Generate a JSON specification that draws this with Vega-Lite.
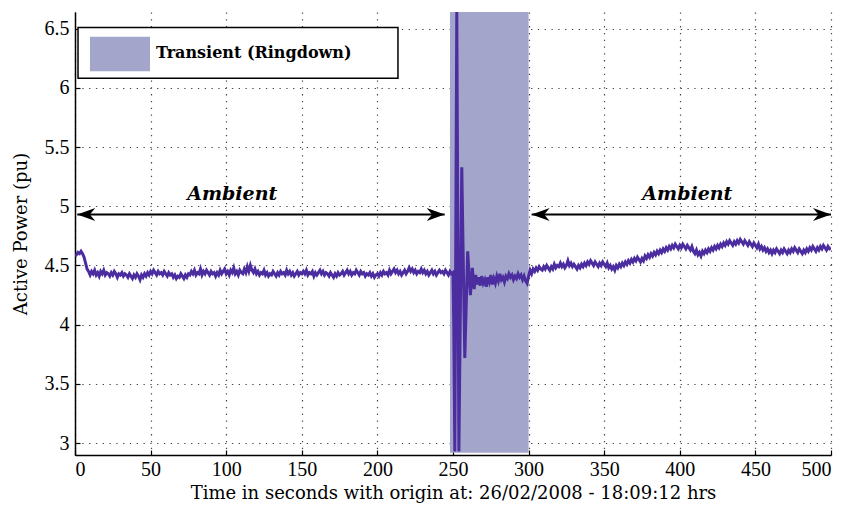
{
"$schema":"https://vega.github.io/schema/vega-lite/v6.json",
"width":756,"height":443,
"autosize":"none",
"padding":{"left":75,"top":12,"right":18,"bottom":53},
"background":"white",
"config":{"view":{"stroke":null},"font":"Liberation Serif","axis":{"domainColor":"black","domainWidth":1.5,"tickColor":"black","tickWidth":1.2,"labelFont":"Liberation Serif","labelFontSize":20,"labelColor":"black","titleFont":"DejaVu Serif","titleFontSize":18,"titleFontWeight":"normal","titleColor":"black","gridColor":"#444","gridDash":[1.3,5.5],"gridWidth":1.2,"gridOpacity":1}},
"datasets":{"sig":[
{"t":0,"p":4.58},{"t":1,"p":4.59},{"t":2,"p":4.61},{"t":3,"p":4.6},{"t":4,"p":4.62},{"t":5,"p":4.6},{"t":6,"p":4.57},{"t":7,"p":4.52},{"t":8,"p":4.47},{"t":9,"p":4.45},{"t":10,"p":4.42},
{"t":11,"p":4.45},{"t":12,"p":4.43},{"t":13,"p":4.46},{"t":14,"p":4.42},{"t":15,"p":4.44},{"t":16,"p":4.41},{"t":17,"p":4.45},{"t":18,"p":4.43},{"t":19,"p":4.46},{"t":20,"p":4.42},
{"t":21,"p":4.44},{"t":22,"p":4.43},{"t":23,"p":4.41},{"t":24,"p":4.44},{"t":25,"p":4.42},{"t":26,"p":4.45},{"t":27,"p":4.43},{"t":28,"p":4.4},{"t":29,"p":4.43},{"t":30,"p":4.42},
{"t":31,"p":4.44},{"t":32,"p":4.41},{"t":33,"p":4.43},{"t":34,"p":4.42},{"t":35,"p":4.4},{"t":36,"p":4.43},{"t":37,"p":4.41},{"t":38,"p":4.39},{"t":39,"p":4.42},{"t":40,"p":4.4},
{"t":41,"p":4.43},{"t":42,"p":4.41},{"t":43,"p":4.38},{"t":44,"p":4.42},{"t":45,"p":4.4},{"t":46,"p":4.43},{"t":47,"p":4.41},{"t":48,"p":4.44},{"t":49,"p":4.42},{"t":50,"p":4.45},
{"t":51,"p":4.43},{"t":52,"p":4.46},{"t":53,"p":4.44},{"t":54,"p":4.42},{"t":55,"p":4.45},{"t":56,"p":4.43},{"t":57,"p":4.44},{"t":58,"p":4.42},{"t":59,"p":4.45},{"t":60,"p":4.43},
{"t":61,"p":4.41},{"t":62,"p":4.44},{"t":63,"p":4.42},{"t":64,"p":4.43},{"t":65,"p":4.4},{"t":66,"p":4.42},{"t":67,"p":4.39},{"t":68,"p":4.41},{"t":69,"p":4.4},{"t":70,"p":4.43},
{"t":71,"p":4.41},{"t":72,"p":4.39},{"t":73,"p":4.42},{"t":74,"p":4.4},{"t":75,"p":4.43},{"t":76,"p":4.42},{"t":77,"p":4.45},{"t":78,"p":4.43},{"t":79,"p":4.46},{"t":80,"p":4.42},
{"t":81,"p":4.44},{"t":82,"p":4.43},{"t":83,"p":4.47},{"t":84,"p":4.42},{"t":85,"p":4.45},{"t":86,"p":4.43},{"t":87,"p":4.46},{"t":88,"p":4.44},{"t":89,"p":4.42},{"t":90,"p":4.45},
{"t":91,"p":4.43},{"t":92,"p":4.44},{"t":93,"p":4.41},{"t":94,"p":4.44},{"t":95,"p":4.42},{"t":96,"p":4.46},{"t":97,"p":4.43},{"t":98,"p":4.45},{"t":99,"p":4.47},{"t":100,"p":4.43},
{"t":101,"p":4.45},{"t":102,"p":4.42},{"t":103,"p":4.46},{"t":104,"p":4.44},{"t":105,"p":4.48},{"t":106,"p":4.43},{"t":107,"p":4.45},{"t":108,"p":4.42},{"t":109,"p":4.46},{"t":110,"p":4.44},
{"t":111,"p":4.43},{"t":112,"p":4.47},{"t":113,"p":4.44},{"t":114,"p":4.49},{"t":115,"p":4.45},{"t":116,"p":4.5},{"t":117,"p":4.46},{"t":118,"p":4.44},{"t":119,"p":4.47},{"t":120,"p":4.43},
{"t":121,"p":4.45},{"t":122,"p":4.42},{"t":123,"p":4.44},{"t":124,"p":4.43},{"t":125,"p":4.46},{"t":126,"p":4.42},{"t":127,"p":4.44},{"t":128,"p":4.41},{"t":129,"p":4.43},{"t":130,"p":4.42},
{"t":131,"p":4.45},{"t":132,"p":4.43},{"t":133,"p":4.41},{"t":134,"p":4.44},{"t":135,"p":4.42},{"t":136,"p":4.45},{"t":137,"p":4.43},{"t":138,"p":4.44},{"t":139,"p":4.42},{"t":140,"p":4.46},
{"t":141,"p":4.43},{"t":142,"p":4.45},{"t":143,"p":4.42},{"t":144,"p":4.44},{"t":145,"p":4.41},{"t":146,"p":4.43},{"t":147,"p":4.45},{"t":148,"p":4.42},{"t":149,"p":4.44},{"t":150,"p":4.43},
{"t":151,"p":4.45},{"t":152,"p":4.43},{"t":153,"p":4.46},{"t":154,"p":4.42},{"t":155,"p":4.44},{"t":156,"p":4.43},{"t":157,"p":4.45},{"t":158,"p":4.41},{"t":159,"p":4.44},{"t":160,"p":4.42},
{"t":161,"p":4.44},{"t":162,"p":4.46},{"t":163,"p":4.43},{"t":164,"p":4.45},{"t":165,"p":4.42},{"t":166,"p":4.44},{"t":167,"p":4.43},{"t":168,"p":4.41},{"t":169,"p":4.44},{"t":170,"p":4.42},
{"t":171,"p":4.4},{"t":172,"p":4.43},{"t":173,"p":4.41},{"t":174,"p":4.44},{"t":175,"p":4.42},{"t":176,"p":4.43},{"t":177,"p":4.45},{"t":178,"p":4.42},{"t":179,"p":4.44},{"t":180,"p":4.46},
{"t":181,"p":4.43},{"t":182,"p":4.45},{"t":183,"p":4.42},{"t":184,"p":4.44},{"t":185,"p":4.43},{"t":186,"p":4.46},{"t":187,"p":4.44},{"t":188,"p":4.42},{"t":189,"p":4.45},{"t":190,"p":4.43},
{"t":191,"p":4.44},{"t":192,"p":4.41},{"t":193,"p":4.43},{"t":194,"p":4.42},{"t":195,"p":4.44},{"t":196,"p":4.41},{"t":197,"p":4.43},{"t":198,"p":4.4},{"t":199,"p":4.42},{"t":200,"p":4.43},
{"t":201,"p":4.41},{"t":202,"p":4.44},{"t":203,"p":4.42},{"t":204,"p":4.45},{"t":205,"p":4.43},{"t":206,"p":4.44},{"t":207,"p":4.42},{"t":208,"p":4.46},{"t":209,"p":4.43},{"t":210,"p":4.45},
{"t":211,"p":4.47},{"t":212,"p":4.44},{"t":213,"p":4.46},{"t":214,"p":4.43},{"t":215,"p":4.45},{"t":216,"p":4.42},{"t":217,"p":4.44},{"t":218,"p":4.46},{"t":219,"p":4.43},{"t":220,"p":4.45},
{"t":221,"p":4.48},{"t":222,"p":4.45},{"t":223,"p":4.47},{"t":224,"p":4.44},{"t":225,"p":4.46},{"t":226,"p":4.43},{"t":227,"p":4.45},{"t":228,"p":4.44},{"t":229,"p":4.47},{"t":230,"p":4.44},
{"t":231,"p":4.46},{"t":232,"p":4.43},{"t":233,"p":4.45},{"t":234,"p":4.42},{"t":235,"p":4.44},{"t":236,"p":4.46},{"t":237,"p":4.43},{"t":238,"p":4.45},{"t":239,"p":4.42},{"t":240,"p":4.44},
{"t":241,"p":4.46},{"t":242,"p":4.44},{"t":243,"p":4.45},{"t":244,"p":4.43},{"t":245,"p":4.46},{"t":246,"p":4.44},{"t":247,"p":4.42},{"t":248,"p":4.45},{"t":249,"p":4.43},{"t":250,"p":4.44},
{"t":250.5,"p":4.0},{"t":251.2,"p":2.93},{"t":252.5,"p":6.64},{"t":253.9,"p":2.93},{"t":255.8,"p":5.33},{"t":257.8,"p":3.72},{"t":259.7,"p":4.62},{"t":261.5,"p":4.25},{"t":262.8,"p":4.48},{"t":264,"p":4.3},
{"t":265,"p":4.42},{"t":266,"p":4.34},{"t":267,"p":4.4},{"t":268,"p":4.33},{"t":269,"p":4.41},{"t":270,"p":4.35},{"t":271,"p":4.38},{"t":272,"p":4.32},{"t":273,"p":4.4},{"t":274,"p":4.36},
{"t":275,"p":4.42},{"t":276,"p":4.34},{"t":277,"p":4.39},{"t":278,"p":4.35},{"t":279,"p":4.41},{"t":280,"p":4.37},{"t":281,"p":4.43},{"t":282,"p":4.38},{"t":283,"p":4.4},{"t":284,"p":4.36},
{"t":285,"p":4.41},{"t":286,"p":4.39},{"t":287,"p":4.43},{"t":288,"p":4.4},{"t":289,"p":4.42},{"t":290,"p":4.38},{"t":291,"p":4.41},{"t":292,"p":4.39},{"t":293,"p":4.43},{"t":294,"p":4.4},
{"t":295,"p":4.42},{"t":296,"p":4.38},{"t":297,"p":4.41},{"t":298,"p":4.37},{"t":299,"p":4.35},{"t":300,"p":4.41},
{"t":301,"p":4.46},{"t":302,"p":4.43},{"t":303,"p":4.47},{"t":304,"p":4.45},{"t":305,"p":4.48},{"t":306,"p":4.46},{"t":307,"p":4.49},{"t":308,"p":4.47},{"t":309,"p":4.46},{"t":310,"p":4.49},
{"t":311,"p":4.47},{"t":312,"p":4.5},{"t":313,"p":4.48},{"t":314,"p":4.46},{"t":315,"p":4.49},{"t":316,"p":4.47},{"t":317,"p":4.51},{"t":318,"p":4.48},{"t":319,"p":4.5},{"t":320,"p":4.49},
{"t":321,"p":4.52},{"t":322,"p":4.49},{"t":323,"p":4.51},{"t":324,"p":4.48},{"t":325,"p":4.5},{"t":326,"p":4.54},{"t":327,"p":4.5},{"t":328,"p":4.52},{"t":329,"p":4.49},{"t":330,"p":4.51},
{"t":331,"p":4.49},{"t":332,"p":4.47},{"t":333,"p":4.5},{"t":334,"p":4.48},{"t":335,"p":4.51},{"t":336,"p":4.49},{"t":337,"p":4.52},{"t":338,"p":4.5},{"t":339,"p":4.53},{"t":340,"p":4.51},
{"t":341,"p":4.54},{"t":342,"p":4.52},{"t":343,"p":4.5},{"t":344,"p":4.53},{"t":345,"p":4.51},{"t":346,"p":4.49},{"t":347,"p":4.52},{"t":348,"p":4.5},{"t":349,"p":4.53},{"t":350,"p":4.51},
{"t":351,"p":4.49},{"t":352,"p":4.52},{"t":353,"p":4.48},{"t":354,"p":4.5},{"t":355,"p":4.47},{"t":356,"p":4.49},{"t":357,"p":4.46},{"t":358,"p":4.5},{"t":359,"p":4.48},{"t":360,"p":4.51},
{"t":361,"p":4.49},{"t":362,"p":4.52},{"t":363,"p":4.5},{"t":364,"p":4.53},{"t":365,"p":4.51},{"t":366,"p":4.54},{"t":367,"p":4.52},{"t":368,"p":4.55},{"t":369,"p":4.53},{"t":370,"p":4.56},
{"t":371,"p":4.54},{"t":372,"p":4.57},{"t":373,"p":4.55},{"t":374,"p":4.53},{"t":375,"p":4.56},{"t":376,"p":4.54},{"t":377,"p":4.58},{"t":378,"p":4.56},{"t":379,"p":4.59},{"t":380,"p":4.57},
{"t":381,"p":4.6},{"t":382,"p":4.58},{"t":383,"p":4.61},{"t":384,"p":4.59},{"t":385,"p":4.62},{"t":386,"p":4.6},{"t":387,"p":4.63},{"t":388,"p":4.61},{"t":389,"p":4.64},{"t":390,"p":4.62},
{"t":391,"p":4.65},{"t":392,"p":4.63},{"t":393,"p":4.66},{"t":394,"p":4.64},{"t":395,"p":4.67},{"t":396,"p":4.65},{"t":397,"p":4.68},{"t":398,"p":4.66},{"t":399,"p":4.64},{"t":400,"p":4.67},
{"t":401,"p":4.65},{"t":402,"p":4.68},{"t":403,"p":4.66},{"t":404,"p":4.64},{"t":405,"p":4.67},{"t":406,"p":4.65},{"t":407,"p":4.63},{"t":408,"p":4.66},{"t":409,"p":4.62},{"t":410,"p":4.6},
{"t":411,"p":4.63},{"t":412,"p":4.59},{"t":413,"p":4.61},{"t":414,"p":4.58},{"t":415,"p":4.62},{"t":416,"p":4.6},{"t":417,"p":4.63},{"t":418,"p":4.61},{"t":419,"p":4.64},{"t":420,"p":4.62},
{"t":421,"p":4.65},{"t":422,"p":4.63},{"t":423,"p":4.66},{"t":424,"p":4.64},{"t":425,"p":4.67},{"t":426,"p":4.65},{"t":427,"p":4.68},{"t":428,"p":4.66},{"t":429,"p":4.69},{"t":430,"p":4.67},
{"t":431,"p":4.7},{"t":432,"p":4.68},{"t":433,"p":4.71},{"t":434,"p":4.69},{"t":435,"p":4.67},{"t":436,"p":4.7},{"t":437,"p":4.68},{"t":438,"p":4.71},{"t":439,"p":4.69},{"t":440,"p":4.72},
{"t":441,"p":4.7},{"t":442,"p":4.68},{"t":443,"p":4.71},{"t":444,"p":4.69},{"t":445,"p":4.67},{"t":446,"p":4.7},{"t":447,"p":4.68},{"t":448,"p":4.66},{"t":449,"p":4.69},{"t":450,"p":4.67},
{"t":451,"p":4.65},{"t":452,"p":4.68},{"t":453,"p":4.64},{"t":454,"p":4.66},{"t":455,"p":4.63},{"t":456,"p":4.65},{"t":457,"p":4.62},{"t":458,"p":4.64},{"t":459,"p":4.61},{"t":460,"p":4.63},
{"t":461,"p":4.6},{"t":462,"p":4.63},{"t":463,"p":4.61},{"t":464,"p":4.64},{"t":465,"p":4.62},{"t":466,"p":4.6},{"t":467,"p":4.63},{"t":468,"p":4.61},{"t":469,"p":4.64},{"t":470,"p":4.62},
{"t":471,"p":4.6},{"t":472,"p":4.63},{"t":473,"p":4.61},{"t":474,"p":4.64},{"t":475,"p":4.62},{"t":476,"p":4.65},{"t":477,"p":4.63},{"t":478,"p":4.61},{"t":479,"p":4.64},{"t":480,"p":4.62},
{"t":481,"p":4.6},{"t":482,"p":4.63},{"t":483,"p":4.61},{"t":484,"p":4.64},{"t":485,"p":4.62},{"t":486,"p":4.65},{"t":487,"p":4.63},{"t":488,"p":4.66},{"t":489,"p":4.64},{"t":490,"p":4.62},
{"t":491,"p":4.65},{"t":492,"p":4.63},{"t":493,"p":4.66},{"t":494,"p":4.64},{"t":495,"p":4.67},{"t":496,"p":4.65},{"t":497,"p":4.63},{"t":498,"p":4.66},{"t":499,"p":4.64},{"t":500,"p":4.65}
]},
"layer":[
{"data":{"values":[{"x":248,"x2":300,"y":2.92,"y2":6.64}]},
 "mark":{"type":"rect","color":"#a3a6ca"},
 "encoding":{
  "x":{"field":"x","type":"quantitative","scale":{"domain":[0,500],"nice":false},
   "axis":{"values":[0,50,100,150,200,250,300,350,400,450,500],"format":"d","grid":true,"tickSize":-5,"labelPadding":9,"labelFont":"Liberation Serif","labelFontSize":20,"titleFont":"DejaVu Serif","titleFontSize":18,"title":"Time in seconds with origin at: 26/02/2008 - 18:09:12 hrs","titlePadding":5}},
  "x2":{"field":"x2"},
  "y":{"field":"y","type":"quantitative","scale":{"domain":[2.9,6.64],"nice":false,"zero":false},
   "axis":{"values":[3,3.5,4,4.5,5,5.5,6,6.5],"format":"~g","grid":true,"tickSize":-5,"labelPadding":11,"labelFont":"Liberation Serif","labelFontSize":20,"titleFont":"DejaVu Serif","titleFontSize":18,"title":"Active Power (pu)","titlePadding":14}},
  "y2":{"field":"y2"}}},
{"data":{"name":"sig"},
 "mark":{"type":"line","color":"#4b2d9f","strokeWidth":3,"clip":true},
 "encoding":{"x":{"field":"t","type":"quantitative"},"y":{"field":"p","type":"quantitative"}}},
{"data":{"values":[{"x":2,"x2":213.6,"y":6.08,"y2":6.51}]},
 "mark":{"type":"rect","fill":"white","stroke":"black","strokeWidth":1.5},
 "encoding":{"x":{"field":"x","type":"quantitative"},"x2":{"field":"x2"},"y":{"field":"y","type":"quantitative"},"y2":{"field":"y2"}}},
{"data":{"values":[{"x":9.9,"x2":49.6,"y":6.14,"y2":6.43}]},
 "mark":{"type":"rect","fill":"#a3a6ca"},
 "encoding":{"x":{"field":"x","type":"quantitative"},"x2":{"field":"x2"},"y":{"field":"y","type":"quantitative"},"y2":{"field":"y2"}}},
{"data":{"values":[{"x":53.5,"y":6.295,"label":"Transient (Ringdown)"}]},
 "mark":{"type":"text","align":"left","baseline":"middle","font":"DejaVu Serif","fontWeight":"bold","fontSize":16,"color":"black"},
 "encoding":{"x":{"field":"x","type":"quantitative"},"y":{"field":"y","type":"quantitative"},"text":{"field":"label"}}},
{"data":{"values":[{"a":1.5,"b":244.5,"y":4.93},{"a":302,"b":500,"y":4.93}]},
 "mark":{"type":"rule","color":"black","strokeWidth":2},
 "encoding":{"x":{"field":"a","type":"quantitative"},"x2":{"field":"b"},"y":{"field":"y","type":"quantitative"}}},
{"data":{"values":[{"x":1.5,"y":4.93},{"x":302,"y":4.93}]},
 "mark":{"type":"point","filled":true,"color":"black","opacity":1,"size":324,"shape":"M 0 0 L 2 -0.72 L 1.4 0 L 2 0.72 Z"},
 "encoding":{"x":{"field":"x","type":"quantitative"},"y":{"field":"y","type":"quantitative"}}},
{"data":{"values":[{"x":244.5,"y":4.93},{"x":500,"y":4.93}]},
 "mark":{"type":"point","filled":true,"color":"black","opacity":1,"size":324,"shape":"M 0 0 L -2 -0.72 L -1.4 0 L -2 0.72 Z"},
 "encoding":{"x":{"field":"x","type":"quantitative"},"y":{"field":"y","type":"quantitative"}}},
{"data":{"values":[{"x":104,"y":5.1,"label":"Ambient"},{"x":405,"y":5.1,"label":"Ambient"}]},
 "mark":{"type":"text","align":"center","baseline":"middle","font":"DejaVu Serif","fontWeight":"bold","fontStyle":"italic","fontSize":19,"color":"black"},
 "encoding":{"x":{"field":"x","type":"quantitative"},"y":{"field":"y","type":"quantitative"},"text":{"field":"label"}}}
]
}
